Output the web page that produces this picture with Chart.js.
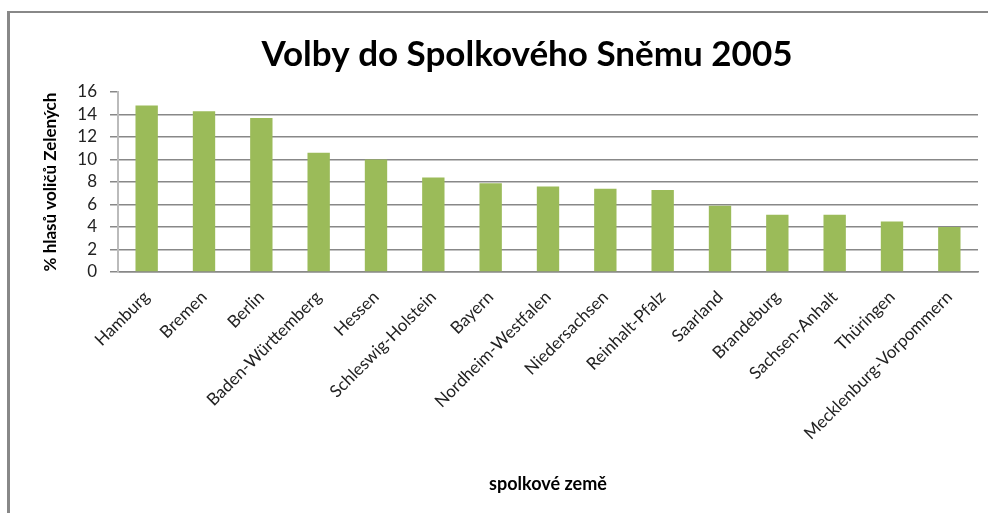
<!DOCTYPE html>
<html>
<head>
<meta charset="utf-8">
<script src="https://cdn.jsdelivr.net/npm/chart.js@4/dist/chart.umd.min.js"></script>
<style>
    html, body { margin: 0; padding: 0; background: #fff; overflow: hidden; }
    #wrap { position: relative; width: 988px; height: 513px; overflow: hidden; }
    #frame {
        position: absolute; left: 7px; top: 11px; width: 990px; height: 520px;
        border-left: 3px solid #888; border-top: 2px solid #888;
    }
    canvas { position: absolute; left: 0; top: 0; }
</style>
</head>
<body>
<div id="wrap">
    <div id="frame"></div>
    <canvas id="chart" width="988" height="513"></canvas>
</div>
<script>
// Data
const states = [
    "Hamburg", "Bremen", "Berlin", "Baden-Württemberg", "Hessen",
    "Schleswig-Holstein", "Bayern", "Nordheim-Westfalen", "Niedersachsen",
    "Reinhalt-Pfalz", "Saarland", "Brandeburg", "Sachsen-Anhalt",
    "Thüringen", "Mecklenburg-Vorpommern"
];
const greenShare = [14.8, 14.3, 13.7, 10.6, 10.0, 8.4, 7.9, 7.6, 7.4, 7.3, 5.9, 5.1, 5.1, 4.5, 4.0];
const yTicks = [0, 2, 4, 6, 8, 10, 12, 14, 16];

const titleText = "Volby do Spolkového Sněmu 2005";
const FONT = "Lato, 'Open Sans', sans-serif";

// title sits a bit right of the canvas centre, like in the original sheet
const titlePlugin = {
    id: "sheetTitle",
    afterDraw(chart) {
        const ctx = chart.ctx;
        ctx.save();
        ctx.font = "bold 35px " + FONT;
        ctx.fillStyle = "#000";
        ctx.textAlign = "center";
        ctx.textBaseline = "middle";
        ctx.fillText(titleText, 527, 55);
        ctx.restore();
    }
};

new Chart(document.getElementById("chart").getContext("2d"), {
    type: "bar",
    data: {
        labels: states,
        datasets: [{
            label: "% hlasů voličů Zelených",
            data: greenShare,
            backgroundColor: "#9BBB59",
            borderWidth: 0,
            categoryPercentage: 1,
            barPercentage: 0.39
        }]
    },
    plugins: [titlePlugin],
    options: {
        responsive: false,
        animation: false,
        layout: { padding: { left: 0, right: 10, top: 92, bottom: 0 } },
        plugins: {
            legend: { display: false },
            tooltip: { enabled: false },
            title: { display: false }
        },
        scales: {
            x: {
                afterFit: (scale) => { scale.height = 513 - 272; },
                grid: { display: false },
                border: { color: "#888", width: 1.5 },
                ticks: {
                    color: "#222",
                    font: { family: FONT, size: 17 },
                    minRotation: 45,
                    maxRotation: 45,
                    autoSkip: false,
                    padding: 7
                },
                title: {
                    display: true,
                    text: "spolkové země",
                    color: "#000",
                    font: { family: FONT, size: 18, weight: "bold" },
                    padding: { top: 0, bottom: 18 }
                }
            },
            y: {
                min: 0,
                max: 16,
                afterFit: (scale) => { scale.width = 118; },
                afterBuildTicks: (axis) => {
                    axis.ticks = yTicks.map(v => ({ value: v }));
                },
                grid: {
                    color: (ctx) => (ctx.tick && ctx.tick.value === 16) ? "rgba(0,0,0,0)" : "#888",
                    lineWidth: 1.5,
                    tickLength: 8,
                    tickColor: "#888"
                },
                border: { color: "#bbb", width: 2 },
                ticks: {
                    color: "#222",
                    font: { family: FONT, size: 17 },
                    padding: 13,
                    autoSkip: false
                },
                title: {
                    display: true,
                    text: "% hlasů voličů Zelených",
                    color: "#000",
                    font: { family: FONT, size: 17, weight: "bold" },
                    padding: { top: 40, bottom: 0 }
                }
            }
        }
    }
});
</script>
</body>
</html>
